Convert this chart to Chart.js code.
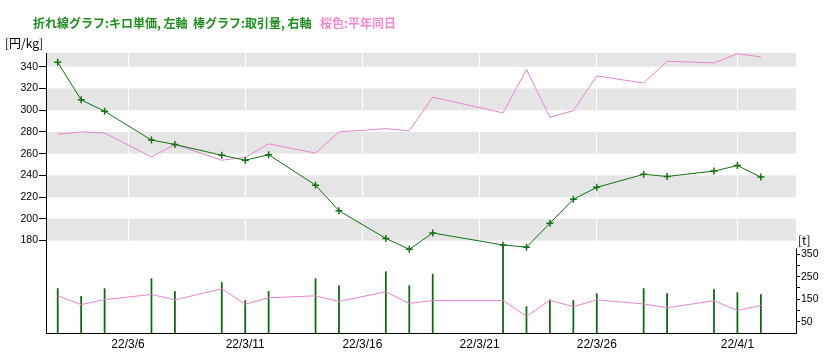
<!DOCTYPE html>
<html><head><meta charset="utf-8">
<script src="https://cdn.jsdelivr.net/npm/chart.js@4"></script>
<style>
html,body{margin:0;padding:0;background:#fff;}
#wrap{position:relative;width:836px;height:361px;overflow:hidden;}
canvas{position:absolute;left:0;top:0;}
.t{position:absolute;white-space:nowrap;font-family:"Noto Sans CJK JP",sans-serif;line-height:1;}
</style></head><body>
<div id="wrap">
<canvas id="c" width="836" height="361"></canvas>
<div class="t" style="left:33px;top:17px;font-size:12px;font-weight:bold;color:#218c21">折れ線グラフ:キロ単価, 左軸</div>
<div class="t" style="left:193px;top:17px;font-size:12px;font-weight:bold;color:#218c21">棒グラフ:取引量, 右軸</div>
<div class="t" style="left:320px;top:17px;font-size:12px;font-weight:bold;color:#f088d4">桜色:平年同日</div>
<div class="t" style="left:5px;top:37px;font-size:12px;color:#000">[円/kg]</div>
<div class="t" style="left:798px;top:234px;font-size:12px;color:#000">[t]</div>
</div>
<script>
const dates = ['2022-03-03','2022-03-04','2022-03-05','2022-03-07','2022-03-08','2022-03-10','2022-03-11','2022-03-12','2022-03-14','2022-03-15','2022-03-17','2022-03-18','2022-03-19','2022-03-22','2022-03-23','2022-03-24','2022-03-25','2022-03-26','2022-03-28','2022-03-29','2022-03-31','2022-04-01','2022-04-02'];
const price = [344, 309.5, 299, 272.5, 268.5, 258.5, 254, 259, 231, 207.5, 182, 172, 187, 176, 174, 196, 218, 229, 241, 239, 244, 249, 238.5];
const priceNormal = [278, 280, 279, 257, 268.5, 254, 256.5, 269, 260.5, 280, 283, 281, 312, 297.5, 337.5, 293.5, 299.5, 331.5, 325, 345, 343.5, 352, 349];
const volume = [197, 162, 197, 241, 184, 224, 144, 184, 241, 210, 272, 210, 261, 392, 117, 147, 144, 175, 197, 175, 193, 179, 171];
const volumeNormal = [165, 126, 148, 171, 147, 196, 128, 156, 165, 140, 183, 131, 144, 144, 74, 145, 117, 147, 129, 112, 143, 100, 122];
const tickDates = ['2022-03-06','2022-03-11','2022-03-16','2022-03-21','2022-03-26','2022-04-01'];
const tickLabels = ['22/3/6','22/3/11','22/3/16','22/3/21','22/3/26','22/4/1'];
const priceTicks = [180, 200, 220, 240, 260, 280, 300, 320, 340];
const volumeTicks = [50, 100, 150, 200, 250, 300, 350];
const volumeLabels = [50, 150, 250, 350];

const DAY = 86400000;
const BASE = Date.parse('2022-03-01');
const toDay = s => (Date.parse(s) - BASE) / DAY + 1;
const labelMap = {};
tickDates.forEach((d, i) => { labelMap[toDay(d)] = tickLabels[i]; });
const pts = arr => dates.map((d, i) => ({ x: toDay(d), y: arr[i] }));

const bgPlugin = {
  id: 'bands',
  beforeDraw(chart) {
    const { ctx, chartArea: a } = chart;
    const yP = chart.scales.yP;
    ctx.save();
    ctx.fillStyle = '#e5e5e5';
    for (let v = 180; v < yP.max; v += 40) {
      const top = yP.getPixelForValue(Math.min(v + 20, yP.max));
      const bot = yP.getPixelForValue(v);
      ctx.fillRect(a.left, top, a.right - a.left, bot - top);
    }
    ctx.restore();
  },
  afterDraw(chart) {
    const { ctx } = chart;
    const yV = chart.scales.yV;
    const x = Math.round(yV.left) + 0.5;
    ctx.save();
    ctx.strokeStyle = '#000';
    ctx.lineWidth = 1;
    ctx.beginPath();
    ctx.moveTo(x, yV.getPixelForValue(0));
    ctx.lineTo(x, yV.getPixelForValue(375));
    ctx.stroke();
    ctx.restore();
  }
};

Chart.defaults.font.family = "'Liberation Sans', Arial, sans-serif";
Chart.defaults.color = '#000';

new Chart(document.getElementById('c'), {
  type: 'line',
  data: {
    datasets: [
      { type: 'line', label: 'キロ単価', data: pts(price), yAxisID: 'yP', xAxisID: 'x',
        borderColor: '#137213', borderWidth: 1, pointStyle: 'cross', pointRadius: 3.5,
        pointBorderWidth: 1.5, pointBorderColor: '#137213', pointBackgroundColor: '#137213', order: 0 },
      { type: 'line', label: '平年キロ単価', data: pts(priceNormal), yAxisID: 'yP', xAxisID: 'x',
        borderColor: '#e585d0', borderWidth: 1, pointRadius: 0, order: 1 },
      { type: 'line', label: '平年取引量', data: pts(volumeNormal), yAxisID: 'yV', xAxisID: 'x',
        borderColor: '#e585d0', borderWidth: 1, pointRadius: 0, order: 1 },
      { type: 'bar', label: '取引量', data: pts(volume), yAxisID: 'yV', xAxisID: 'x',
        backgroundColor: '#0f650f', barThickness: 1.1, order: 2 }
    ]
  },
  options: {
    responsive: false,
    animation: false,
    devicePixelRatio: 1,
    layout: { padding: { top: 53, left: 0, right: 0, bottom: 0 } },
    plugins: { legend: { display: false }, tooltip: { enabled: false }, title: { display: false } },
    scales: {
      x: {
        type: 'linear', position: 'bottom', min: 2.5, max: 34.5, offset: false,
        afterBuildTicks: s => { s.ticks = tickDates.map(d => ({ value: toDay(d) })); },
        ticks: { callback: v => labelMap[v] ?? '', autoSkip: false, maxRotation: 0, padding: 4,
                 font: { size: 12 }, color: '#000' },
        grid: { color: '#ffffff', lineWidth: 1, drawTicks: false, offset: false },
        border: { color: '#000', width: 1 },
        afterFit: s => { s.height = 28; }
      },
      yP: {
        type: 'linear', position: 'left', min: 95, max: 352.6,
        afterBuildTicks: s => { s.ticks = priceTicks.map(v => ({ value: v })); },
        ticks: { padding: 1, font: { size: 10.5 }, color: '#000' },
        grid: { drawOnChartArea: false, tickLength: 7, color: '#000' },
        border: { color: '#000', width: 1 },
        afterFit: s => { s.width = 46; }
      },
      yV: {
        type: 'linear', position: 'right', min: 0, max: 1242,
        afterBuildTicks: s => { s.ticks = volumeTicks.map(v => ({ value: v })); },
        ticks: { padding: 1, font: { size: 10.5 }, color: '#000',
                 callback: v => volumeLabels.includes(v) ? String(v) : '' },
        grid: { drawOnChartArea: false, tickLength: 4, color: '#000' },
        border: { display: false },
        afterFit: s => { s.width = 40; }
      }
    }
  },
  plugins: [bgPlugin]
});
</script>
</body></html>
